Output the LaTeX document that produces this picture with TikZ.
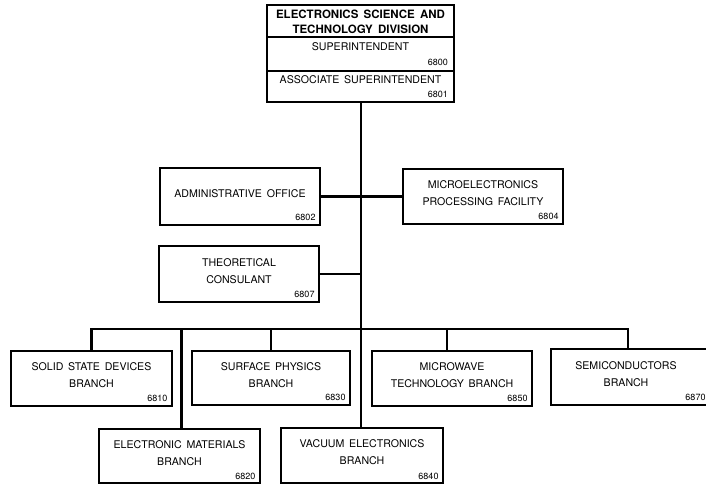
\documentclass[tikz,border=0pt]{standalone}
\usepackage{fontspec}
\setmainfont{TeX Gyre Heros}
\usetikzlibrary{fit,calc}
\begin{document}
\begin{tikzpicture}[x=1pt,y=-1pt,
  box/.style={draw, line width=1.4pt, inner sep=0pt},
  conn/.style={line width=2.2pt},
  lbl/.style={font=\fontsize{10.6}{17}\selectfont, execute at begin node={\spaceskip=0.45em\relax}, align=center, inner sep=0pt},
  ttl/.style={font=\fontsize{11.5}{14.5}\selectfont\bfseries, execute at begin node={\spaceskip=0.45em\relax}, align=center, inner sep=0pt},
  num/.style={font=\fontsize{9}{9}\selectfont, anchor=base east, inner sep=0pt}]
\useasboundingbox[fill=white] (0,0) rectangle (706,484);

% top stacked box
\node[box, fit={(267,5) (454,37)}] (title) {};
\node[box, fit={(267,37) (454,71)}] (sup) {};
\node[box, fit={(267,71) (454,102)}] (assoc) {};
\node[ttl] (titleT) at ($(title.center)+(0,1)$) {ELECTRONICS SCIENCE AND\\TECHNOLOGY DIVISION};
\node[lbl, anchor=base] (supT) at (360.5,51) {SUPERINTENDENT};
\node[num] (supN) at (448,66) {6800};
\node[lbl, anchor=base] (assocT) at (360.5,84) {ASSOCIATE SUPERINTENDENT};
\node[num] (assocN) at (448,98) {6801};

% staff boxes
\node[box, fit={(160,168) (320,225)}] (adm) {};
\node[lbl] (admT) at ($(adm.center)+(0,-3)$) {ADMINISTRATIVE OFFICE};
\node[num] (admN) at ($(adm.south east)+(-5,-5)$) {6802};

\node[box, fit={(403,169) (563,224)}] (mic) {};
\node[lbl] (micT) at ($(mic.center)+(0,-3)$) {MICROELECTRONICS\\PROCESSING FACILITY};
\node[num] (micN) at ($(mic.south east)+(-5,-5)$) {6804};

\node[box, fit={(159,246) (319,302)}] (theo) {};
\node[lbl] (theoT) at ($(theo.center)+(0,-3)$) {THEORETICAL\\CONSULANT};
\node[num] (theoN) at ($(theo.south east)+(-5,-5)$) {6807};

% branches
\node[box, fit={(11,351) (172,406)}] (ss) {};
\node[lbl] (ssT) at ($(ss.center)+(0,-3)$) {SOLID STATE DEVICES\\BRANCH};
\node[num] (ssN) at ($(ss.south east)+(-5,-5)$) {6810};

\node[box, fit={(192,351) (350,405)}] (sp) {};
\node[lbl] (spT) at ($(sp.center)+(0,-3)$) {SURFACE PHYSICS\\BRANCH};
\node[num] (spN) at ($(sp.south east)+(-5,-5)$) {6830};

\node[box, fit={(372,351) (532,406)}] (mw) {};
\node[lbl] (mwT) at ($(mw.center)+(0,-3)$) {MICROWAVE\\TECHNOLOGY BRANCH};
\node[num] (mwN) at ($(mw.south east)+(-5,-5)$) {6850};

\node[box, fit={(551,349) (707,405)}] (semi) {};
\node[lbl] (semiT) at ($(semi.center)+(-3,-3)$) {SEMICONDUCTORS\\BRANCH};
\node[num] (semiN) at ($(semi.south east)+(-2,-5)$) {6870};

\node[box, fit={(99,429) (260,483)}] (em) {};
\node[lbl] (emT) at ($(em.center)+(0,-3)$) {ELECTRONIC MATERIALS\\BRANCH};
\node[num] (emN) at ($(em.south east)+(-5,-4)$) {6820};

\node[box, fit={(281,428) (443,483)}] (vac) {};
\node[lbl] (vacT) at ($(vac.center)+(0,-3)$) {VACUUM ELECTRONICS\\BRANCH};
\node[num] (vacN) at ($(vac.south east)+(-5,-4)$) {6840};

% connectors
\coordinate (bus) at (0,329);
\coordinate (trunk) at (361,0);
\draw[conn] (assoc.south -| trunk) -- (vac.north -| trunk);
\draw[conn] (adm.east) -- (adm.east -| mic.west);
\draw[conn] (theo.east) -- (theo.east -| trunk);
\draw[conn] (ss.north) -- (ss.north |- bus) -- ([xshift=-1pt]semi.north |- bus) -- ([xshift=-1pt]semi.north);
\draw[conn] (sp.north) -- (sp.north |- bus);
\draw[conn] ([xshift=-5pt]mw.north) -- ([xshift=-5pt]mw.north |- bus);
\draw[conn] ([xshift=2pt]em.north) -- ([xshift=2pt]em.north |- bus);
\end{tikzpicture}
\end{document}
